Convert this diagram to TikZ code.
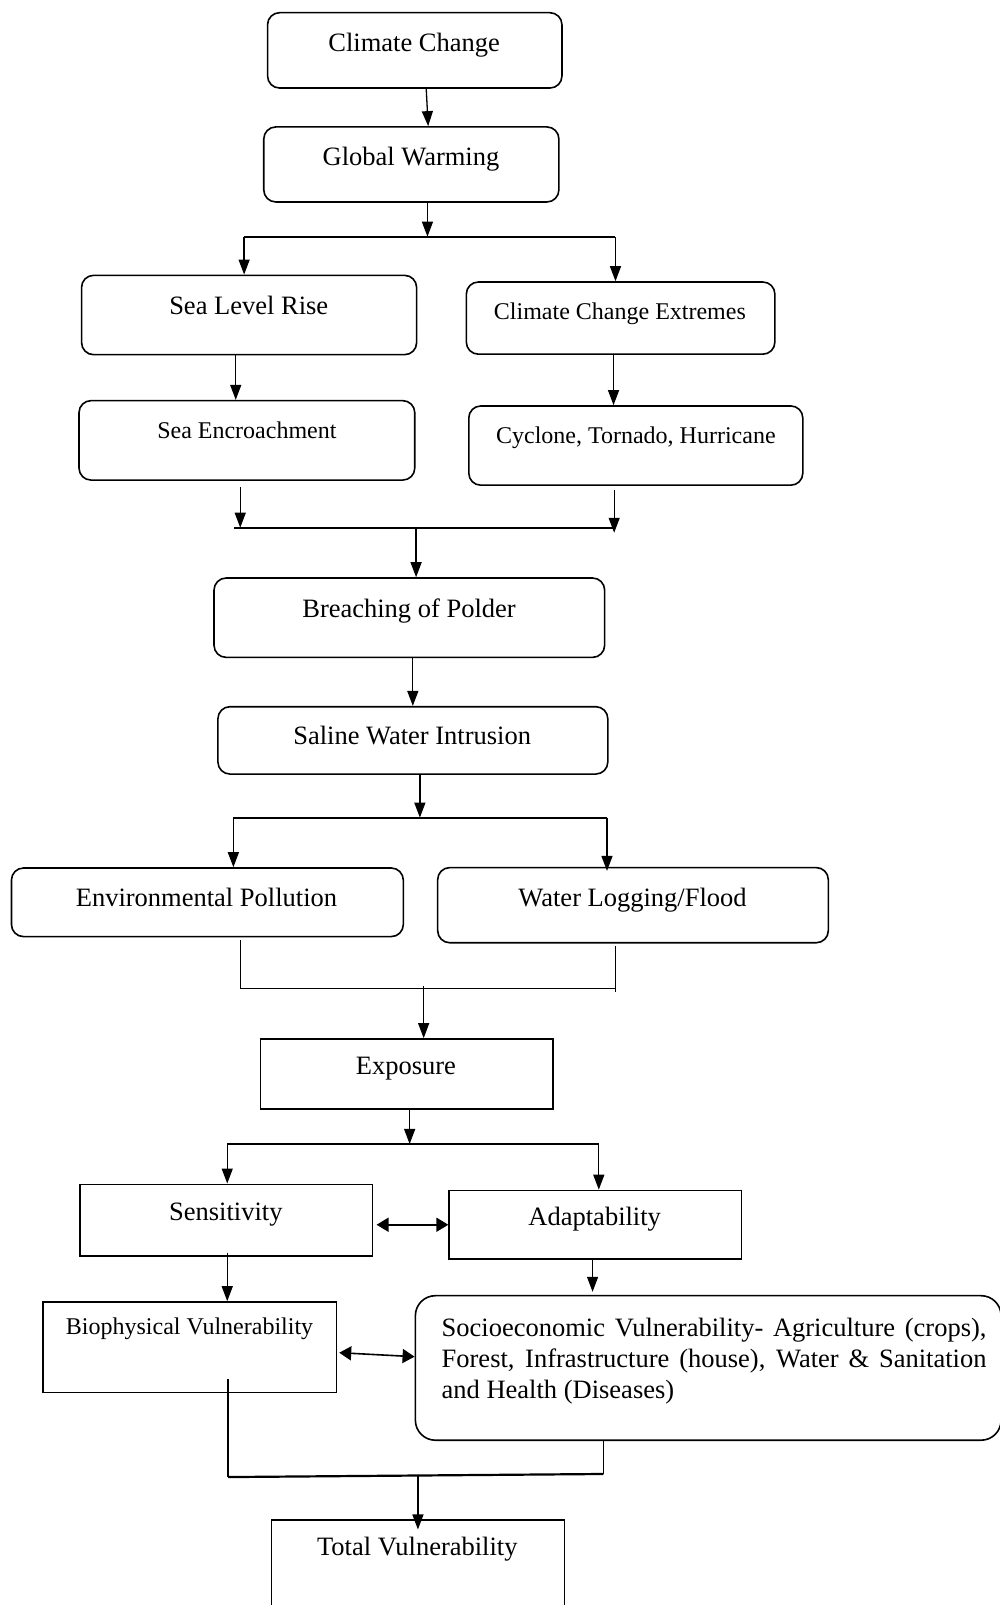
\documentclass[tikz,border=0pt]{standalone}
\usepackage{fontspec}
\setmainfont{Liberation Serif}
\usetikzlibrary{arrows.meta,fit,calc}
\begin{document}
\begin{tikzpicture}[x=1.0236pt,y=-1.0236pt,
 rbox/.style={draw,line width=1.6pt,rounded corners=12pt,inner sep=0pt},
 sbox/.style={draw,line width=1.6pt,inner sep=0pt},
 arr/.style={line width=1.3pt,-{Triangle[length=15pt,width=11pt]}},
 dbl/.style={line width=1.6pt,{Triangle[length=12pt,width=14pt]}-{Triangle[length=12pt,width=14pt]}},
 bar/.style={line width=2.2pt},
 conn/.style={line width=1.3pt},
 big/.style={anchor=base,inner sep=0pt,font=\fontsize{26.5pt}{30.7pt}\selectfont},
 small/.style={anchor=base,inner sep=0pt,font=\fontsize{24pt}{28pt}\selectfont}]
\useasboundingbox (0,0) rectangle (976,1568);

% boxes
\node[rbox,fit={(261.4,12.4)(549,86)}] (cc) {};
\node[big] (cct) at (404.6,50.5) {Climate Change};
\node[rbox,fit={(257.7,124)(546,197.3)}] (gw) {};
\node[big] (gwt) at (401.5,161.8) {Global Warming};
\node[rbox,fit={(79.7,269)(407,346.5)}] (slr) {};
\node[big] (slrt) at (243,307) {Sea Level Rise};
\node[rbox,fit={(455.6,275.5)(757,346)}] (cce) {};
\node[small] (ccet) at (605.6,312) {Climate Change Extremes};
\node[rbox,fit={(77.2,391.4)(405.2,469)}] (se) {};
\node[small] (set) at (241.2,428.2) {Sea Encroachment};
\node[rbox,fit={(458,396.6)(784.3,474)}] (cth) {};
\node[small] (ctht) at (621.2,433) {Cyclone, Tornado, Hurricane};
\node[rbox,fit={(209.1,564.7)(590.7,642.2)}] (bp) {};
\node[big] (bpt) at (399.6,603.4) {Breaching of Polder};
\node[rbox,fit={(212.9,690.4)(593.8,756.2)}] (swi) {};
\node[big] (swit) at (402.7,727.8) {Saline Water Intrusion};
\node[rbox,fit={(11.2,848)(394,915)}] (ep) {};
\node[big] (ept) at (201.7,885.8) {Environmental Pollution};
\node[rbox,fit={(427.6,847.6)(809.2,921)}] (wlf) {};
\node[big] (wlft) at (618,885.8) {Water Logging/Flood};
\node[sbox,fit={(254.6,1015)(540.3,1083.5)}] (exp) {};
\node[big] (expt) at (396.5,1050.2) {Exposure};
\node[sbox,fit={(78.4,1157)(364.1,1227)}] (sen) {};
\node[big] (sent) at (220.6,1192.5) {Sensitivity};
\node[sbox,fit={(438.8,1163)(724.5,1230)}] (ada) {};
\node[big] (adat) at (581,1197.7) {Adaptability};
\node[sbox,fit={(42.3,1272)(328.6,1360.5)}] (bio) {};
\node[small] (biot) at (185.2,1303.5) {Biophysical Vulnerability};
\node[rbox,rounded corners=20pt,fit={(405.8,1265.8)(978,1407)}] (soc) {};
\node[big,anchor=base west,align=left] (soct) at (431.3,1366)
 {\hbox to 544.8pt{Socioeconomic Vulnerability- Agriculture (crops),}\\
  \hbox to 544.8pt{Forest, Infrastructure (house), Water \& Sanitation}\\
  and Health (Diseases)};
\node[sbox,fit={(265.2,1485)(551.5,1580)}] (tv) {};
\node[big] (tvt) at (407.7,1519.2) {Total Vulnerability};

% junction points
\coordinate (b1L) at (238.5,231.2); \coordinate (b1R) at (601.3,231.2); \coordinate (b1M) at (417.6,231.2);
\coordinate (b2L) at (229,515.5);   \coordinate (b2R) at (600,515.5);   \coordinate (b2M) at (406.5,515.5);
\coordinate (b3L) at (228,798.8);   \coordinate (b3R) at (593,798.8);   \coordinate (b3M) at (410.2,798.8);
\coordinate (b4L) at (234.7,966);   \coordinate (b4R) at (601.3,966);   \coordinate (b4M) at (413.9,966);
\coordinate (b5L) at (222,1117.6);  \coordinate (b5R) at (585,1117.6);  \coordinate (b5M) at (400.2,1117.6);
\coordinate (b6L) at (222.8,1443);  \coordinate (b6R) at (589.4,1440);  \coordinate (b6M) at (408.3,1441.5);

% connectors
\draw[arr] (cc.south -| 416.4,0) -- (gw.north -| 418.3,0);
\draw[arr] (gw.south -| b1M) -- (b1M);
\draw[bar] (b1L) -- (b1R);
\draw[arr] (b1L) -- (slr.north -| b1L);
\draw[arr] (b1R) -- (cce.north -| b1R);
\draw[arr] (slr.south -| 230.3,0) -- (se.north -| 230.3,0);
\draw[arr] (cce.south -| 599.4,0) -- (cth.north -| 599.4,0);

\draw[arr] ($(se.south -| 234.7,0)+(0,6)$) -- (b2L -| 234.7,0);
\draw[arr] ($(cth.south -| b2R)+(0,4)$) -- ($(b2R)+(0,5)$);
\draw[bar] (b2L) -- (b2R);
\draw[arr] (b2M) -- (bp.north -| b2M);
\draw[arr] (bp.south -| 403.3,0) -- (swi.north -| 403.3,0);

\draw[arr] (swi.south -| b3M) -- (b3M);
\draw[bar] (b3L) -- (b3R);
\draw[arr] (b3L) -- (ep.north -| b3L);
\draw[arr] (b3R) -- ($(wlf.north -| b3R)+(0,4)$);

\draw[conn] ($(ep.south -| b4L)+(0,3)$) -- (b4L) -- (b4R);
\draw[conn] ($(wlf.south -| b4R)+(0,2)$) -- ($(b4R)+(0,3)$);
\draw[arr] ($(b4M)+(0,-3)$) -- (exp.north -| b4M);

\draw[arr] (exp.south -| b5M) -- (b5M);
\draw[bar] (b5L) -- (b5R);
\draw[arr] (b5L) -- (sen.north -| b5L);
\draw[arr] (b5R) -- (ada.north -| b5R);
\draw[dbl] ($(sen.east |- 0,1196.5)+(3,0)$) -- (ada.west |- 0,1196.5);
\draw[arr] ($(sen.south -| b5L)+(0,-4)$) -- (bio.north -| b5L);
\draw[arr] (ada.south -| 578.9,0) -- ($(soc.north -| 578.9,0)+(0,-3)$);
\draw[dbl] ($(bio.east |- 0,1321.5)+(2,0)$) -- (soc.west |- 0,1325.4);

\draw[conn] ($(bio.south -| b6L)+(0,-14)$) -- (b6L);
\draw[conn] (soc.south -| b6R) -- (b6R);
\draw[bar] (b6L) -- (b6R);
\draw[arr] (b6M) -- ($(tv.north -| b6M)+(0,10)$);
\end{tikzpicture}
\end{document}
